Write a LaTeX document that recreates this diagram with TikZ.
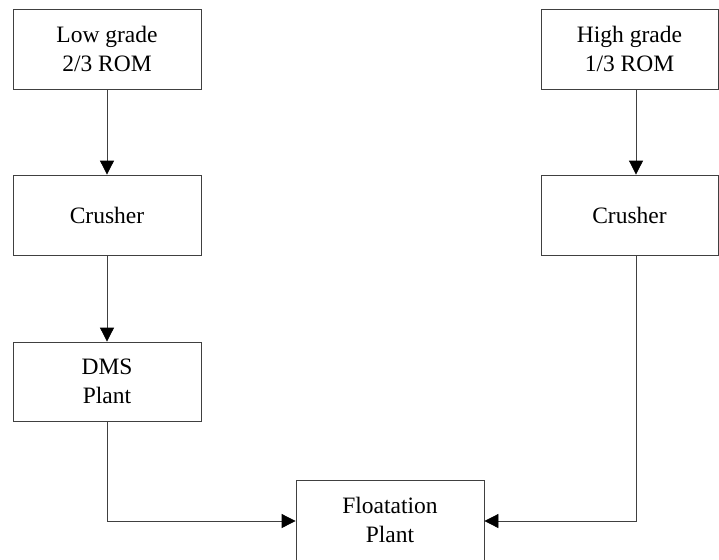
\documentclass[tikz,border=0pt]{standalone}
\usepackage{fontspec}
\setmainfont{Liberation Serif}
\usetikzlibrary{arrows.meta}

\begin{document}
\begin{tikzpicture}[x=1pt,y=-1pt,->,>={Triangle[length=14pt,width=14pt,color=black]},
  line width=0.8pt,draw=black!75,
  stage/.style={rectangle,draw=black!75,-,minimum width=188pt,minimum height=80pt,
    inner sep=0pt,align=center,font=\fontsize{23.5}{29}\selectfont}]

  \useasboundingbox (0,0) rectangle (719,559);

  \node[stage] (low) at (107,49) {Low grade\\2/3 ROM};
  \node[stage,minimum width=177pt] (high) at (629.5,49) {High grade\\1/3 ROM};
  \node[stage] (crush1) at (107,215) {Crusher};
  \node[stage,minimum width=177pt] (crush2) at (629.5,215) {Crusher};
  \node[stage,minimum height=79pt] (dms) at (107,381.5) {DMS\\Plant};
  \node[stage] (float) at (390,520) {Floatation\\Plant};

  \path[every edge/.style={draw=black!75}]
    (low) edge (crush1)
    (crush1) edge (dms)
    ([xshift=6.5pt]high.south) edge ([xshift=6.5pt]crush2.north);

  \draw (dms.south) |- ([yshift=-1pt]float.west);
  \draw ([xshift=6.5pt]crush2.south) |- ([yshift=-1pt]float.east);

\end{tikzpicture}
\end{document}
